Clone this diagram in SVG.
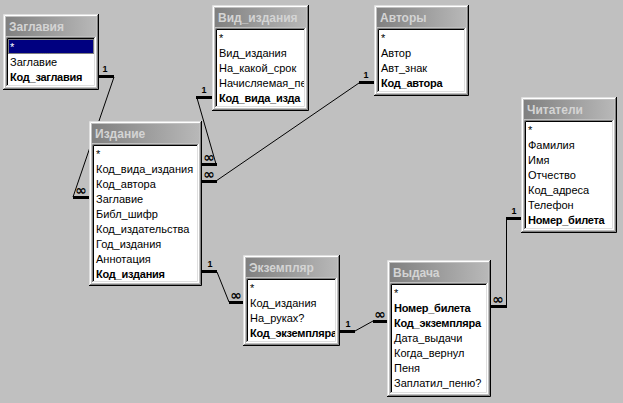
<svg xmlns="http://www.w3.org/2000/svg" width="623" height="403" viewBox="0 0 623 403">
<style>
.bg{fill:#c0c0c0}
.frm{fill:#c0c0c0}
.hl1{fill:none;stroke:#dfdfdf;stroke-width:1}
.hl2{fill:none;stroke:#ffffff;stroke-width:1}
.sh1{fill:none;stroke:#000000;stroke-width:1}
.sh2{fill:none;stroke:#808080;stroke-width:1}
.bar{fill:url(#cap)}
.ttl{font-family:"Liberation Sans",Arial,sans-serif;font-size:12px;font-weight:bold;fill:#d4d4d4}
.lst{fill:#ffffff}
.f{font-family:"Liberation Sans",Arial,sans-serif;font-size:11px;fill:#000}
.b{font-weight:bold;letter-spacing:-0.25px}
.sel{fill:#000080}
.foc{fill:none;stroke:#ffff80;stroke-width:1;stroke-dasharray:1 1}
.w{fill:#ffffff}
.thin{fill:none;stroke:#000;stroke-width:1}
.thick{fill:none;stroke:#000;stroke-width:3}
.one{font-family:"Liberation Sans",Arial,sans-serif;font-size:9px;font-weight:bold;fill:#000;text-anchor:middle}
.inf{font-family:"DejaVu Sans",sans-serif;font-size:14px;font-weight:bold;fill:#000;text-anchor:middle}
</style>
<defs>
<linearGradient id="cap" x1="0" y1="0" x2="1" y2="0">
<stop offset="0" stop-color="#808080"/>
<stop offset="1" stop-color="#b8b8b8"/>
</linearGradient>
<clipPath id="c1"><rect x="5" y="25" width="86" height="45"/></clipPath>
<clipPath id="c2"><rect x="5" y="25" width="87" height="75"/></clipPath>
<clipPath id="c3"><rect x="5" y="25" width="85" height="60"/></clipPath>
<clipPath id="c4"><rect x="5" y="25" width="103" height="135"/></clipPath>
<clipPath id="c5"><rect x="5" y="25" width="86" height="105"/></clipPath>
<clipPath id="c6"><rect x="5" y="25" width="87" height="60"/></clipPath>
<clipPath id="c7"><rect x="5" y="25" width="94" height="105"/></clipPath>
</defs>
<rect class="bg" x="0" y="0" width="623" height="403"/>

<g id="connectors">
<!-- Заглавия -> Издание -->
<path class="thick" d="M99,76.5H114"/>
<text class="one" x="105" y="72">1</text>
<path class="thin" d="M114,77L73,197"/>
<path class="thick" d="M73,197.5H89"/>
<text class="inf" x="81" y="195">∞</text>
<!-- Вид_издания -> Издание -->
<path class="thick" d="M196,97.5H212"/>
<text class="one" x="204" y="93">1</text>
<path class="thin" d="M197,98L216,164"/>
<path class="thick" d="M202,164.5H217"/>
<text class="inf" x="209" y="162">∞</text>
<!-- Авторы -> Издание -->
<path class="thick" d="M359,82.5H374"/>
<text class="one" x="366" y="78">1</text>
<path class="thin" d="M359,83L216,181"/>
<path class="thick" d="M202,181.5H217"/>
<text class="inf" x="209" y="179">∞</text>
<!-- Издание -> Экземпляр -->
<path class="thick" d="M202,271.5H217"/>
<text class="one" x="210" y="267">1</text>
<path class="thin" d="M217,272L229,302"/>
<path class="thick" d="M229,302.5H243"/>
<text class="inf" x="236" y="300">∞</text>
<!-- Экземпляр -> Выдача -->
<path class="thick" d="M340,331.5H355"/>
<text class="one" x="348" y="327">1</text>
<path class="thin" d="M355,331L373,321"/>
<path class="thick" d="M373,321.5H387"/>
<text class="inf" x="380" y="319">∞</text>
<!-- Читатели -> Выдача -->
<path class="thick" d="M506,218.5H521"/>
<text class="one" x="514" y="214">1</text>
<path class="thin" d="M506.5,218V307"/>
<path class="thick" d="M491,306.5H507"/>
<text class="inf" x="498" y="304">∞</text>
</g>

<g id="t-zaglaviya" transform="translate(3,14)">
<rect class="frm" width="96" height="76"/>
<path class="hl1" d="M0.5,75V0.5H95"/><path class="hl2" d="M1.5,74V1.5H94"/>
<path class="sh1" d="M0,75.5H95.5V0"/><path class="sh2" d="M1,74.5H94.5V1"/>
<rect class="bar" x="3" y="3" width="90" height="19"/>
<text class="ttl" x="6" y="17">Заглавия</text>
<rect class="lst" x="3" y="23" width="90" height="50"/>
<path class="sh2" d="M3.5,72V23.5H92"/><path class="sh1" d="M4.5,71V24.5H91"/>
<path class="hl2" d="M3,72.5H92.5V23"/><path class="hl1" d="M4,71.5H91.5V24"/>
<g clip-path="url(#c1)">
<rect class="sel" x="5" y="25" width="86" height="15"/>
<rect class="foc" x="5.5" y="25.5" width="85" height="14"/>
<text class="f w" x="7" y="36.5">*</text>
<text class="f" x="7" y="51.5">Заглавие</text>
<text class="f b" x="7" y="66.5">Код_заглавия</text>
</g>
</g>

<g id="t-vid-izdaniya" transform="translate(212,5)">
<rect class="frm" width="97" height="106"/>
<path class="hl1" d="M0.5,105V0.5H96"/><path class="hl2" d="M1.5,104V1.5H95"/>
<path class="sh1" d="M0,105.5H96.5V0"/><path class="sh2" d="M1,104.5H95.5V1"/>
<rect class="bar" x="3" y="3" width="91" height="19"/>
<text class="ttl" x="6" y="17">Вид_издания</text>
<rect class="lst" x="3" y="23" width="91" height="80"/>
<path class="sh2" d="M3.5,102V23.5H93"/><path class="sh1" d="M4.5,101V24.5H92"/>
<path class="hl2" d="M3,102.5H93.5V23"/><path class="hl1" d="M4,101.5H92.5V24"/>
<g clip-path="url(#c2)">
<text class="f" x="7" y="36.5">*</text>
<text class="f" x="7" y="51.5">Вид_издания</text>
<text class="f" x="7" y="66.5">На_какой_срок</text>
<text class="f" x="7" y="81.5">Начисляемая_пе</text>
<text class="f b" x="7" y="96.5">Код_вида_изда</text>
</g>
</g>

<g id="t-avtory" transform="translate(374,5)">
<rect class="frm" width="95" height="91"/>
<path class="hl1" d="M0.5,90V0.5H94"/><path class="hl2" d="M1.5,89V1.5H93"/>
<path class="sh1" d="M0,90.5H94.5V0"/><path class="sh2" d="M1,89.5H93.5V1"/>
<rect class="bar" x="3" y="3" width="89" height="19"/>
<text class="ttl" x="6" y="17">Авторы</text>
<rect class="lst" x="3" y="23" width="89" height="65"/>
<path class="sh2" d="M3.5,87V23.5H91"/><path class="sh1" d="M4.5,86V24.5H90"/>
<path class="hl2" d="M3,87.5H91.5V23"/><path class="hl1" d="M4,86.5H90.5V24"/>
<g clip-path="url(#c3)">
<text class="f" x="7" y="36.5">*</text>
<text class="f" x="7" y="51.5">Автор</text>
<text class="f" x="7" y="66.5">Авт_знак</text>
<text class="f b" x="7" y="81.5">Код_автора</text>
</g>
</g>

<g id="t-izdanie" transform="translate(89,121)">
<rect class="frm" width="113" height="165"/>
<path class="hl1" d="M0.5,164V0.5H112"/><path class="hl2" d="M1.5,163V1.5H111"/>
<path class="sh1" d="M0,164.5H112.5V0"/><path class="sh2" d="M1,163.5H111.5V1"/>
<rect class="bar" x="3" y="3" width="107" height="19"/>
<text class="ttl" x="6" y="17">Издание</text>
<rect class="lst" x="3" y="23" width="107" height="139"/>
<path class="sh2" d="M3.5,161V23.5H109"/><path class="sh1" d="M4.5,160V24.5H108"/>
<path class="hl2" d="M3,161.5H109.5V23"/><path class="hl1" d="M4,160.5H108.5V24"/>
<g clip-path="url(#c4)">
<text class="f" x="7" y="36.5">*</text>
<text class="f" x="7" y="51.5">Код_вида_издания</text>
<text class="f" x="7" y="66.5">Код_автора</text>
<text class="f" x="7" y="81.5">Заглавие</text>
<text class="f" x="7" y="96.5">Библ_шифр</text>
<text class="f" x="7" y="111.5">Код_издательства</text>
<text class="f" x="7" y="126.5">Год_издания</text>
<text class="f" x="7" y="141.5">Аннотация</text>
<text class="f b" x="7" y="156.5">Код_издания</text>
</g>
</g>

<g id="t-chitateli" transform="translate(521,97)">
<rect class="frm" width="96" height="136"/>
<path class="hl1" d="M0.5,135V0.5H95"/><path class="hl2" d="M1.5,134V1.5H94"/>
<path class="sh1" d="M0,135.5H95.5V0"/><path class="sh2" d="M1,134.5H94.5V1"/>
<rect class="bar" x="3" y="3" width="90" height="19"/>
<text class="ttl" x="6" y="17">Читатели</text>
<rect class="lst" x="3" y="23" width="90" height="110"/>
<path class="sh2" d="M3.5,132V23.5H92"/><path class="sh1" d="M4.5,131V24.5H91"/>
<path class="hl2" d="M3,132.5H92.5V23"/><path class="hl1" d="M4,131.5H91.5V24"/>
<g clip-path="url(#c5)">
<text class="f" x="7" y="36.5">*</text>
<text class="f" x="7" y="51.5">Фамилия</text>
<text class="f" x="7" y="66.5">Имя</text>
<text class="f" x="7" y="81.5">Отчество</text>
<text class="f" x="7" y="96.5">Код_адреса</text>
<text class="f" x="7" y="111.5">Телефон</text>
<text class="f b" x="7" y="126.5">Номер_билета</text>
</g>
</g>

<g id="t-ekzemplyar" transform="translate(243,255)">
<rect class="frm" width="97" height="91"/>
<path class="hl1" d="M0.5,90V0.5H96"/><path class="hl2" d="M1.5,89V1.5H95"/>
<path class="sh1" d="M0,90.5H96.5V0"/><path class="sh2" d="M1,89.5H95.5V1"/>
<rect class="bar" x="3" y="3" width="91" height="19"/>
<text class="ttl" x="6" y="17">Экземпляр</text>
<rect class="lst" x="3" y="23" width="91" height="65"/>
<path class="sh2" d="M3.5,87V23.5H93"/><path class="sh1" d="M4.5,86V24.5H92"/>
<path class="hl2" d="M3,87.5H93.5V23"/><path class="hl1" d="M4,86.5H92.5V24"/>
<g clip-path="url(#c6)">
<text class="f" x="7" y="36.5">*</text>
<text class="f" x="7" y="51.5">Код_издания</text>
<text class="f" x="7" y="66.5">На_руках?</text>
<text class="f b" x="7" y="81.5">Код_экземпляра</text>
</g>
</g>

<g id="t-vydacha" transform="translate(387,260)">
<rect class="frm" width="104" height="137"/>
<path class="hl1" d="M0.5,136V0.5H103"/><path class="hl2" d="M1.5,135V1.5H102"/>
<path class="sh1" d="M0,136.5H103.5V0"/><path class="sh2" d="M1,135.5H102.5V1"/>
<rect class="bar" x="3" y="3" width="98" height="19"/>
<text class="ttl" x="6" y="17">Выдача</text>
<rect class="lst" x="3" y="23" width="98" height="111"/>
<path class="sh2" d="M3.5,133V23.5H100"/><path class="sh1" d="M4.5,132V24.5H99"/>
<path class="hl2" d="M3,133.5H100.5V23"/><path class="hl1" d="M4,132.5H99.5V24"/>
<g clip-path="url(#c7)">
<text class="f" x="7" y="36.5">*</text>
<text class="f b" x="7" y="51.5">Номер_билета</text>
<text class="f b" x="7" y="66.5">Код_экземпляра</text>
<text class="f" x="7" y="81.5">Дата_выдачи</text>
<text class="f" x="7" y="96.5">Когда_вернул</text>
<text class="f" x="7" y="111.5">Пеня</text>
<text class="f" x="7" y="126.5">Заплатил_пеню?</text>
</g>
</g>
</svg>
